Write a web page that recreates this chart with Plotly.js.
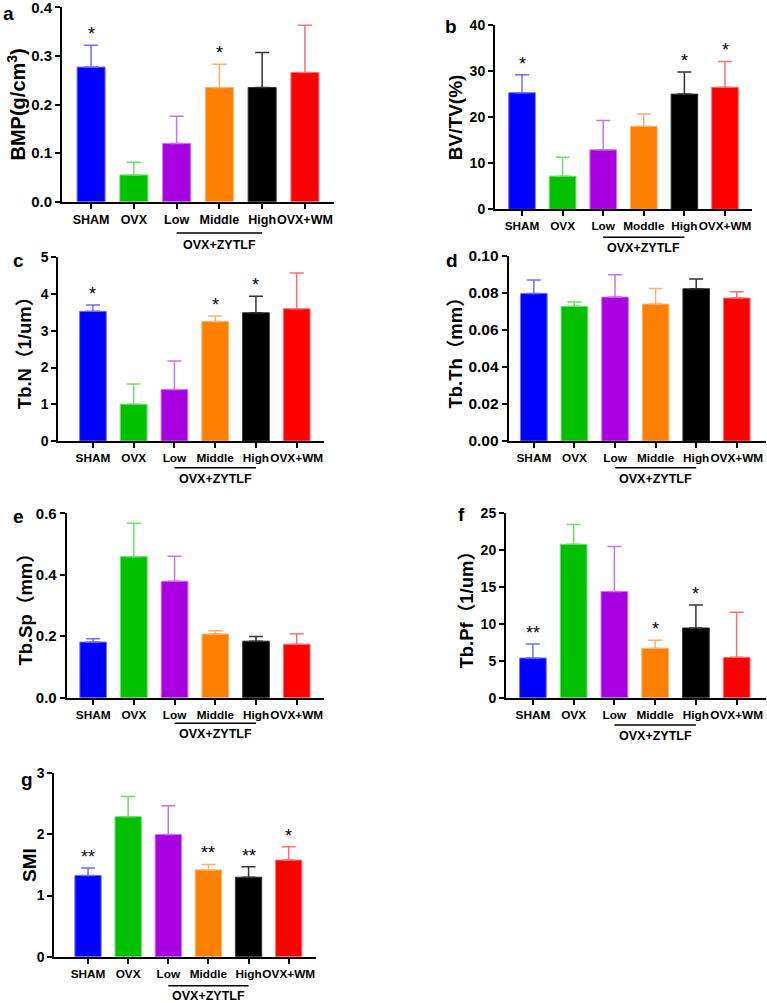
<!DOCTYPE html>
<html>
<head>
<meta charset="utf-8">
<script src="https://cdn.plot.ly/plotly-3.0.1.min.js"></script>
<style>html,body{margin:0;padding:0;background:#fff;}#chart{width:767px;height:1003px;}</style>
</head>
<body>
<div id="chart"></div>
<script>
// ---------- data ----------
const categories = ["SHAM", "OVX", "Low", "Middle", "High", "OVX+WM"];
const categoriesB = ["SHAM", "OVX", "Low", "Moddle", "High", "OVX+WM"];
const groupLabel = "OVX+ZYTLF";
const barColors = ["#0000FF", "#00C000", "#A800E0", "#FF8000", "#000000", "#FF0000"];
const edgeColors = ["#6f6fff", "#6fdc6f", "#c873ee", "#ffb070", "#333333", "#ff7070"];

const meanBMP = [0.277, 0.055, 0.120, 0.235, 0.235, 0.266];
const sdBMP   = [0.045, 0.026, 0.056, 0.048, 0.072, 0.097];
const starsBMP = ["*", "", "", "*", "", ""];

const meanBVTV = [25.3, 7.2, 12.9, 18.0, 25.0, 26.5];
const sdBVTV   = [3.9, 4.1, 6.4, 2.7, 4.8, 5.6];
const starsBVTV = ["*", "", "", "", "*", "*"];

const meanTbN = [3.53, 1.00, 1.40, 3.25, 3.49, 3.60];
const sdTbN   = [0.17, 0.55, 0.78, 0.15, 0.45, 0.97];
const starsTbN = ["*", "", "", "*", "*", ""];

const meanTbTh = [0.0798, 0.0728, 0.0778, 0.0740, 0.0823, 0.0773];
const sdTbTh   = [0.0072, 0.0023, 0.0121, 0.0085, 0.0053, 0.0034];
const starsTbTh = ["", "", "", "", "", ""];

const meanTbSp = [0.181, 0.459, 0.379, 0.207, 0.184, 0.174];
const sdTbSp   = [0.011, 0.109, 0.081, 0.011, 0.015, 0.034];
const starsTbSp = ["", "", "", "", "", ""];

const meanTbPf = [5.38, 20.8, 14.4, 6.69, 9.45, 5.47];
const sdTbPf   = [1.90, 2.7, 6.1, 1.09, 3.12, 6.10];
const starsTbPf = ["**", "", "", "*", "*", ""];

const meanSMI = [1.33, 2.29, 2.00, 1.42, 1.30, 1.58];
const sdSMI   = [0.12, 0.33, 0.47, 0.09, 0.17, 0.22];
const starsSMI = ["**", "", "", "**", "**", "*"];

const panelLetters = ["a", "b", "c", "d", "e", "f", "g"];
const yTitles = ["BMP(g/cm<sup>3</sup>)", "BV/TV(%)", "Tb.N（1/um）", "Tb.Th（mm）", "Tb.Sp（mm）", "Tb.Pf（1/um）", "SMI"];
const yMax = [0.4, 40, 5, 0.10, 0.6, 25, 3];
const yDtick = [0.1, 10, 1, 0.02, 0.2, 5, 1];
const yFormat = [".1f", "", "", ".2f", ".1f", "", ""];

// ---------- layout geometry (pixels) ----------
const W = 767, H = 1003;
const FONT = "Arial, 'Liberation Sans', 'Noto Sans CJK SC', sans-serif";
// [left, right, top, bottom] of each plot area in px
const geom = [
  [62, 334, 7.3, 201.7],
  [495, 752, 25, 209.3],
  [58.3, 324, 257.3, 441],
  [508.7, 766, 256, 441],
  [66.7, 324, 513.3, 697.7],
  [506, 766, 513.3, 697.7],
  [54.3, 316, 773.3, 956.7]
];
const xRanges = [[-0.68, 5.68], [-0.665, 5.665], [-0.85, 5.67], [-0.62, 5.72], [-0.65, 5.67], [-0.66, 5.72], [-0.84, 5.68]];
const barWidthFrac = 0.655;
const titleX = [16, 455, 24, 455, 25, 466, 29];
const titleSize = [20, 19, 18.5, 18.5, 18.5, 18.5, 19];
const letterPos = [[8, 14], [451, 27], [18, 260], [452, 260], [18, 516], [461, 514], [27, 779]];
const bracketOffset = [31.3, 28, 26.7, 26.7, 25.6, 27.3, 29];
const groupTextOffset = [12, 11, 11, 11, 11, 11, 10];
const xTickFont = [12.5, 11.8, 11.8, 11.8, 11.8, 11.8, 11.8];
const yTickFont = [15, 14, 14, 15.5, 15, 14, 14];

const px = v => v / W;
const py = v => 1 - v / H;

const series = [
  [meanBMP, sdBMP, starsBMP, categories],
  [meanBVTV, sdBVTV, starsBVTV, categoriesB],
  [meanTbN, sdTbN, starsTbN, categories],
  [meanTbTh, sdTbTh, starsTbTh, categories],
  [meanTbSp, sdTbSp, starsTbSp, categories],
  [meanTbPf, sdTbPf, starsTbPf, categories],
  [meanSMI, sdSMI, starsSMI, categories]
];

const traces = [];
const annotations = [];
const shapes = [];
const layout = {
  width: W, height: H,
  margin: {l: 0, r: 0, t: 0, b: 0},
  paper_bgcolor: "#fff", plot_bgcolor: "#fff",
  barmode: "overlay",
  showlegend: false,
  font: {family: FONT, color: "#000"},
  annotations: annotations,
  shapes: shapes
};

series.forEach((s, p) => {
  const [mean, sd, stars, labels] = s;
  const n = p + 1;
  const xa = "x" + (n === 1 ? "" : n), ya = "y" + (n === 1 ? "" : n);
  const g = geom[p];
  labels.forEach((lab, i) => {
    traces.push({
      type: "bar", x: [lab], y: [mean[i]], xaxis: xa, yaxis: ya,
      width: barWidthFrac,
      marker: {color: barColors[i], line: {color: edgeColors[i], width: 1}},
      error_y: {type: "data", symmetric: false, array: [sd[i]], arrayminus: [0],
                color: i === 4 ? "#333" : edgeColors[i], thickness: 1.5, width: 7},
      hoverinfo: "skip"
    });
    if (stars[i]) {
      annotations.push({
        xref: xa, yref: ya, x: lab, y: mean[i] + sd[i],
        text: stars[i], showarrow: false, yanchor: "bottom", yshift: -1,
        font: {family: FONT, size: 18, color: "#000"}
      });
    }
  });
  const axX = "xaxis" + (n === 1 ? "" : n), axY = "yaxis" + (n === 1 ? "" : n);
  layout[axX] = {
    domain: [px(g[0]), px(g[1])], anchor: ya, type: "category",
    categoryorder: "array", categoryarray: labels,
    range: xRanges[p], showgrid: false, zeroline: false,
    showline: true, linecolor: "#000", linewidth: 2,
    ticks: "outside", ticklen: 5, tickwidth: 2, tickcolor: "#000",
    tickangle: 0, ticklabeloverflow: "allow",
    tickfont: {family: FONT, size: xTickFont[p], weight: "bold", color: "#000"},
    fixedrange: true
  };
  layout[axY] = {
    domain: [py(g[3]), py(g[2])], anchor: xa,
    range: [0, yMax[p] * 1.0001], dtick: yDtick[p], tick0: 0, tickformat: yFormat[p],
    showgrid: false, zeroline: false, showline: true, linecolor: "#000", linewidth: 2,
    ticks: "outside", ticklen: 5, tickwidth: 2, tickcolor: "#000",
    ticklabeloverflow: "allow",
    tickfont: {family: FONT, size: yTickFont[p], weight: "bold", color: "#000"},
    fixedrange: true
  };
  // y-axis title
  annotations.push({
    xref: "paper", yref: "paper", x: px(titleX[p]), y: py((g[2] + g[3]) / 2),
    text: yTitles[p], textangle: -90, showarrow: false,
    xanchor: "center", yanchor: "middle",
    font: {family: FONT, size: titleSize[p], weight: "bold", color: "#000"}
  });
  // panel letter
  annotations.push({
    xref: "paper", yref: "paper", x: px(letterPos[p][0]), y: py(letterPos[p][1]),
    text: panelLetters[p], showarrow: false, xanchor: "center", yanchor: "middle",
    font: {family: FONT, size: 19, weight: "bold", color: "#000"}
  });
  // group bracket under Low..High
  const by = g[3] + bracketOffset[p];
  shapes.push({
    type: "line", xref: xa, yref: "paper", x0: 2, x1: 4,
    y0: py(by), y1: py(by), line: {color: "#000", width: 1.5}
  });
  annotations.push({
    xref: xa, yref: "paper", x: 3, y: py(by + groupTextOffset[p]),
    text: groupLabel, showarrow: false, xanchor: "center", yanchor: "middle",
    font: {family: FONT, size: 12.5, weight: "bold", color: "#000"}
  });
});

Plotly.newPlot("chart", traces, layout, {staticPlot: true, displayModeBar: false});
</script>
</body>
</html>
